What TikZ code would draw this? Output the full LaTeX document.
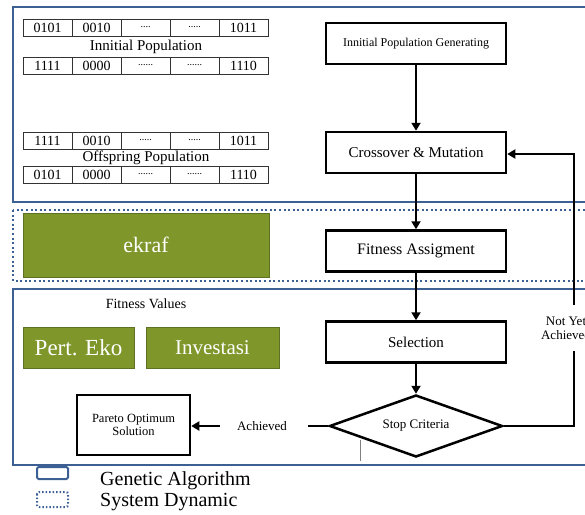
\documentclass[tikz,border=0pt]{standalone}
\usepackage{fontspec}
\setmainfont{Liberation Serif}
\usetikzlibrary{arrows.meta,shapes.geometric}
\definecolor{gablue}{HTML}{3D6094}
\definecolor{olive}{HTML}{7F962B}
\definecolor{olivedark}{HTML}{5E7024}
\newcommand\fs[1]{\fontsize{#1}{#1}\selectfont}
\newcommand\bitrow[7]{%
  \node[bitcell] (#1a) at (47.5,#2) {#3};
  \node[bitcell] (#1b) at (96.5,#2) {#4};
  \node[bitcell] (#1c) at (145.5,#2) {#5};
  \node[bitcell] (#1d) at (194.5,#2) {#6};
  \node[bitcell] (#1e) at (243.5,#2) {#7};}
\begin{document}
\begin{tikzpicture}[x=1pt,y=-1pt,
  bitcell/.style={draw=black!80,line width=0.9pt,minimum width=49pt,minimum height=17pt,inner sep=0pt,font=\fs{14}},
  flowbox/.style={draw,line width=2.5pt,minimum width=180pt,minimum height=41pt,inner sep=0pt,font=\fs{15}},
  gabox/.style={draw=gablue,line width=2.4pt},
  sdbox/.style={draw=gablue,line width=2.2pt,dash pattern=on 2pt off 2.6pt},
  greenbox/.style={fill=olive,draw=olivedark,line width=1pt,text=white,inner sep=0pt},
  flowarrow/.style={line width=2.5pt,-{Triangle[width=9pt,length=8pt]}},
  flowline/.style={line width=2.5pt}]
\useasboundingbox (0,0) rectangle (585,514);
\clip (0,0) rectangle (585,514);
% frames
\draw[gabox] (13,7) rectangle (605,202);
\draw[sdbox] (13,210) rectangle (605,281);
\draw[gabox] (13,289) rectangle (605,465);
% bit rows
\bitrow{ra}{27.5}{0101}{0010}{\fs{10}....}{\fs{10}.....}{1011}
\node[font=\fs{15}] (ip) at (146,47) {Innitial Population};
\bitrow{rb}{65.5}{1111}{0000}{\fs{10}......}{\fs{10}......}{1110}
\bitrow{rc}{140.5}{1111}{0010}{\fs{10}.....}{\fs{10}.....}{1011}
\node[font=\fs{15}] (op) at (146,158) {Offspring Population};
\bitrow{rd}{174.5}{0101}{0000}{\fs{10}......}{\fs{10}......}{1110}
% green boxes
\node[greenbox,minimum width=246pt,minimum height=64pt,font=\fs{22}] (ek) at (146,245) {ekraf};
\node[font=\fs{14}] (fv) at (146,304) {Fitness Values};
\node[greenbox,minimum width=111pt,minimum height=41pt,font=\fs{23}] (pe) at (78.5,347.5) {Pert. Eko};
\node[greenbox,minimum width=133pt,minimum height=41pt,font=\fs{21}] (inv) at (212.5,347.5) {Investasi};
% flow chart
\node[flowbox,font=\fs{12}] (b1) at (416,43.5) {Innitial Population Generating};
\node[flowbox] (b2) at (416,152.5) {Crossover \& Mutation};
\node[flowbox,font=\fs{16}] (b3) at (416,251) {Fitness Assigment};
\node[flowbox] (b4) at (416,342) {Selection};
\node[diamond,draw,line width=2.5pt,minimum width=173pt,minimum height=62pt,aspect=2.8,inner sep=0pt,font=\fs{13}] (d) at (416,426) {Stop Criteria};
\node[draw,line width=2.5pt,minimum width=113pt,minimum height=60pt,inner sep=0pt,align=center,font=\fs{12.5}] (p) at (133.5,425) {Pareto Optimum\\Solution};
\draw[flowarrow] (b1) -- (b2);
\draw[flowarrow] (b2) -- (b3);
\draw[flowarrow] (b3) -- (b4);
\draw[flowarrow] (b4) -- (d);
% not yet achieved loop
\coordinate (fr) at (574,426);
\coordinate (fb) at (574,351);
\coordinate (ft) at (574,305);
\coordinate (fc) at (574,154);
\node[align=center,font=\fs{13},inner sep=0pt] (ny) at (566,328) {Not Yet\\[1pt]Achieved};
\draw[flowline] (d.east) -- (fr) -- (fb);
\draw[flowarrow] (ft) -- (fc) -- (b2.east |- fc);
% achieved
\coordinate (dl) at (308,426);
\coordinate (al) at (220,426);
\node[font=\fs{13}] (ach) at (262,426) {Achieved};
\draw[flowline] (d.west) -- (dl);
\draw[flowarrow] (al) -- (p.east |- al);
% stray grey mark
\coordinate (g1) at (360,439.5);
\coordinate (g2) at (360,461);
\draw[gray,line width=1pt] (g1) -- (g2);
% legend
\draw[draw=gablue,line width=2pt,rounded corners=1.5pt] (37,467) rectangle (68,479);
\draw[draw=gablue,line width=2pt,dash pattern=on 1.5pt off 2pt,rounded corners=2pt] (37,492) rectangle (68,507);
\node[anchor=west,font=\fs{20},inner sep=0pt] (lg1) at (100,481) {Genetic Algorithm};
\node[anchor=west,font=\fs{20},inner sep=0pt] (lg2) at (100,502) {System Dynamic};
\end{tikzpicture}
\end{document}
